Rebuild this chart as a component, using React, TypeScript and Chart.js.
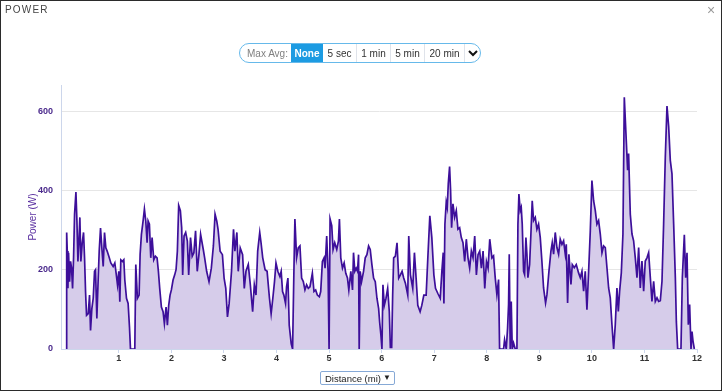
import React, { useEffect, useRef } from "react";
import { Chart, registerables } from "chart.js";

Chart.register(...registerables);

const distance = [
  0.0, 0.008, 0.019, 0.032, 0.044, 0.063, 0.082, 0.101, 0.12, 0.139, 0.158, 0.184, 0.203, 0.222, 0.241, 0.259,
  0.278, 0.304, 0.329, 0.348, 0.367, 0.386, 0.418, 0.443, 0.462, 0.487, 0.513, 0.538, 0.557, 0.582, 0.608, 0.627,
  0.652, 0.677, 0.703, 0.728, 0.753, 0.778, 0.81, 0.848, 0.892, 0.924, 0.949, 0.975, 1.0, 1.019, 1.038, 1.07,
  1.095, 1.114, 1.146, 1.177, 1.203, 1.222, 1.304, 1.323, 1.354, 1.386, 1.405, 1.43, 1.462, 1.487, 1.513, 1.538,
  1.557, 1.582, 1.608, 1.633, 1.665, 1.696, 1.728, 1.753, 1.778, 1.81, 1.842, 1.867, 1.899, 1.924, 1.949, 1.975,
  2.0, 2.032, 2.063, 2.089, 2.114, 2.139, 2.171, 2.196, 2.215, 2.241, 2.272, 2.304, 2.329, 2.364, 2.396, 2.428,
  2.46, 2.492, 2.524, 2.556, 2.607, 2.633, 2.671, 2.716, 2.76, 2.799, 2.831, 2.863, 2.888, 2.927, 2.971, 3.003,
  3.035, 3.067, 3.099, 3.144, 3.182, 3.208, 3.246, 3.272, 3.31, 3.355, 3.387, 3.419, 3.463, 3.502, 3.546, 3.578,
  3.61, 3.642, 3.681, 3.706, 3.738, 3.783, 3.821, 3.866, 3.898, 3.93, 3.962, 3.99, 4.025, 4.064, 4.089, 4.115,
  4.14, 4.172, 4.191, 4.217, 4.242, 4.28, 4.306, 4.331, 4.35, 4.382, 4.414, 4.446, 4.478, 4.51, 4.541, 4.573,
  4.605, 4.637, 4.682, 4.713, 4.745, 4.777, 4.815, 4.841, 4.873, 4.904, 4.924, 4.955, 4.981, 5.0, 5.019, 5.051,
  5.076, 5.108, 5.146, 5.178, 5.197, 5.223, 5.255, 5.287, 5.318, 5.35, 5.376, 5.414, 5.446, 5.465, 5.49, 5.516,
  5.541, 5.561, 5.573, 5.592, 5.618, 5.656, 5.688, 5.72, 5.752, 5.783, 5.815, 5.847, 5.879, 5.911, 5.943, 5.962,
  5.987, 6.006, 6.025, 6.051, 6.083, 6.115, 6.146, 6.166, 6.191, 6.21, 6.229, 6.261, 6.293, 6.325, 6.357, 6.389,
  6.42, 6.452, 6.497, 6.516, 6.548, 6.592, 6.624, 6.656, 6.688, 6.732, 6.764, 6.803, 6.847, 6.879, 6.917, 6.955,
  6.994, 7.025, 7.07, 7.115, 7.146, 7.172, 7.185, 7.204, 7.229, 7.248, 7.268, 7.293, 7.312, 7.331, 7.357, 7.389,
  7.42, 7.452, 7.484, 7.516, 7.548, 7.58, 7.611, 7.643, 7.675, 7.707, 7.739, 7.771, 7.803, 7.834, 7.866, 7.898,
  7.93, 7.962, 7.994, 8.025, 8.057, 8.098, 8.129, 8.161, 8.193, 8.225, 8.244, 8.32, 8.339, 8.371, 8.396, 8.415,
  8.428, 8.447, 8.466, 8.485, 8.51, 8.542, 8.574, 8.593, 8.612, 8.637, 8.656, 8.675, 8.701, 8.72, 8.745, 8.764,
  8.783, 8.815, 8.84, 8.865, 8.891, 8.923, 8.954, 8.986, 9.018, 9.049, 9.081, 9.119, 9.145, 9.183, 9.221, 9.246,
  9.272, 9.303, 9.335, 9.367, 9.398, 9.43, 9.462, 9.494, 9.513, 9.538, 9.563, 9.602, 9.627, 9.665, 9.703, 9.747,
  9.779, 9.811, 9.843, 9.874, 9.906, 9.938, 9.97, 10.001, 10.033, 10.065, 10.096, 10.128, 10.16, 10.192, 10.223, 10.255,
  10.287, 10.319, 10.35, 10.382, 10.414, 10.445, 10.477, 10.503, 10.528, 10.56, 10.591, 10.617, 10.648, 10.68, 10.699, 10.731,
  10.763, 10.794, 10.826, 10.858, 10.89, 10.921, 10.953, 10.985, 11.016, 11.048, 11.08, 11.112, 11.143, 11.175, 11.207, 11.239,
  11.27, 11.302, 11.334, 11.365, 11.397, 11.429, 11.461, 11.492, 11.524, 11.556, 11.588, 11.607, 11.632, 11.695, 11.721, 11.759,
  11.784, 11.81, 11.835, 11.86, 11.886, 11.905, 11.924, 11.949,
];

const power = [
  0, 294, 247, 153, 243, 170, 221, 204, 153, 230, 340, 396, 323, 221, 272, 332,
  221, 268, 294, 230, 145, 85, 89, 136, 47, 102, 128, 196, 200, 77, 179, 247,
  305, 255, 208, 294, 255, 247, 234, 217, 208, 217, 191, 162, 196, 119, 225, 221,
  225, 174, 128, 115, 55, 0, 0, 213, 128, 136, 238, 289, 323, 353, 323, 268,
  323, 315, 230, 281, 225, 234, 230, 196, 153, 106, 94, 64, 106, 60, 110, 136,
  149, 174, 187, 200, 247, 362, 349, 306, 187, 285, 294, 272, 187, 281, 234, 243,
  298, 196, 238, 289, 251, 230, 196, 170, 204, 260, 340, 323, 302, 247, 238, 179,
  153, 81, 115, 196, 302, 247, 294, 196, 255, 238, 153, 196, 213, 162, 94, 162,
  136, 247, 294, 268, 230, 200, 196, 128, 89, 128, 170, 217, 196, 183, 196, 145,
  136, 115, 157, 179, 60, 13, 0, 196, 328, 230, 255, 260, 179, 170, 149, 162,
  153, 157, 191, 145, 149, 136, 132, 145, 221, 230, 204, 285, 196, 0, 328, 311,
  251, 268, 251, 272, 328, 230, 204, 217, 191, 179, 149, 196, 149, 243, 196, 204,
  196, 238, 0, 196, 170, 196, 230, 238, 260, 251, 213, 179, 170, 128, 102, 68,
  34, 0, 162, 110, 128, 153, 94, 4, 4, 136, 230, 234, 268, 179, 187, 196,
  179, 166, 136, 285, 187, 153, 243, 179, 110, 94, 110, 136, 136, 230, 336, 281,
  187, 153, 140, 128, 196, 243, 115, 315, 370, 357, 417, 460, 400, 306, 366, 332,
  349, 302, 306, 281, 268, 221, 277, 230, 204, 247, 230, 285, 187, 238, 247, 204,
  247, 153, 221, 204, 277, 230, 235, 180, 137, 175, 0, 0, 23, 0, 52, 112,
  239, 0, 120, 0, 15, 0, 0, 315, 391, 349, 357, 315, 196, 188, 281, 239,
  180, 213, 290, 374, 324, 332, 302, 315, 281, 222, 154, 116, 137, 196, 247, 268,
  239, 294, 256, 239, 277, 264, 273, 239, 264, 116, 239, 163, 213, 205, 213, 192,
  180, 196, 146, 196, 99, 196, 298, 425, 374, 349, 315, 324, 290, 243, 260, 256,
  205, 154, 129, 61, 0, 61, 154, 95, 146, 192, 290, 635, 544, 451, 493, 340,
  290, 273, 230, 180, 256, 154, 222, 146, 222, 230, 243, 180, 120, 171, 120, 129,
  120, 122, 171, 315, 484, 613, 561, 476, 442, 315, 180, 69, 0, 0, 180, 288,
  180, 243, 61, 112, 0, 44, 20, 0,
];

const xTickValues = [1, 2, 3, 4, 5, 6, 7, 8, 9, 10, 11, 12];
const yTickValues = [0, 200, 400, 600];
const avgOptions = ["5 sec", "1 min", "5 min", "20 min"];
const avgWidths = [33, 34, 34, 40];

const FONT = '"Liberation Sans", Arial, Helvetica, sans-serif';

export default function App() {
  const ref = useRef<HTMLCanvasElement | null>(null);

  useEffect(() => {
    document.body.style.margin = "0";
    const canvas = ref.current;
    if (!canvas) return;
    const points = distance.map((d, i) => ({ x: d, y: power[i] }));
    const chart = new Chart(canvas, {
      type: "line",
      data: {
        datasets: [
          {
            data: points,
            borderColor: "#3d0f9a",
            backgroundColor: "rgba(214,204,234,1)",
            fill: "origin",
            borderWidth: 1.7,
            pointRadius: 0,
            tension: 0,
          },
        ],
      },
      options: {
        animation: false,
        responsive: false,
        maintainAspectRatio: false,
        layout: { padding: { top: 85, right: 25, bottom: 20, left: 0 } },
        plugins: { legend: { display: false }, tooltip: { enabled: false } },
        scales: {
          x: {
            type: "linear",
            min: -0.1,
            max: 12,
            afterBuildTicks: (s: any) => {
              s.ticks = xTickValues.map((v) => ({ value: v }));
            },
            afterFit: (s: any) => {
              s.height = 22;
            },
            grid: { drawOnChartArea: false, drawTicks: true, tickLength: 4, color: "#ccd6eb" },
            border: { color: "#ccd6eb" },
            ticks: {
              color: "#333333",
              font: { size: 9, weight: "bold", family: FONT },
              padding: 0,
              maxRotation: 0,
              autoSkip: false,
            },
          },
          y: {
            min: 0,
            max: 666,
            afterBuildTicks: (s: any) => {
              s.ticks = yTickValues.map((v) => ({ value: v }));
            },
            afterFit: (s: any) => {
              s.width = 61;
            },
            grid: {
              drawTicks: false,
              color: (ctx: any) => (ctx.tick && ctx.tick.value === 0 ? "rgba(0,0,0,0)" : "#e6e6e6"),
            },
            border: { color: "#ccd6eb" },
            ticks: {
              padding: 8,
              color: "#4b2a8c",
              font: { size: 9, weight: "bold", family: FONT },
            },
            title: {
              display: true,
              text: "Power (W)",
              color: "#5a2fa0",
              font: { size: 10, family: FONT },
              padding: { top: 27, bottom: 0 },
            },
          },
        },
      },
    } as any);
    return () => chart.destroy();
  }, []);

  return (
    <div
      style={{
        position: "absolute",
        left: 0,
        top: 0,
        width: 722,
        height: 391,
        boxSizing: "border-box",
        border: "1px solid #2b2b2b",
        background: "#fff",
        overflow: "hidden",
        fontFamily: FONT,
      }}
    >
      <canvas
        ref={ref}
        width={722}
        height={391}
        style={{ position: "absolute", left: -1, top: -1, display: "block", width: 722, height: 391 }}
      />
      <div
        style={{
          position: "absolute",
          left: 4,
          top: 3,
          fontSize: 10,
          letterSpacing: 1.2,
          color: "#444",
        }}
      >
        POWER
      </div>
      <div style={{ position: "absolute", left: 706, top: 1, fontSize: 14, color: "#999" }}>×</div>

      <div
        style={{
          position: "absolute",
          left: 238,
          top: 42,
          width: 242,
          height: 20,
          boxSizing: "border-box",
          border: "1px solid #66b9ea",
          borderRadius: 10,
          display: "flex",
          alignItems: "stretch",
          overflow: "hidden",
          fontSize: 10,
          background: "#fff",
        }}
      >
        <div
          style={{
            width: 51,
            color: "#808080",
            display: "flex",
            alignItems: "center",
            justifyContent: "center",
            paddingLeft: 4,
            boxSizing: "border-box",
          }}
        >
          Max Avg:
        </div>
        <div
          style={{
            width: 32,
            background: "#1c9be2",
            color: "#fff",
            fontWeight: "bold",
            display: "flex",
            alignItems: "center",
            justifyContent: "center",
          }}
        >
          None
        </div>
        {avgOptions.map((o, i) => (
          <div
            key={o}
            style={{
              width: avgWidths[i],
              boxSizing: "border-box",
              borderLeft: i === 0 ? "none" : "1px solid #dfe3ea",
              color: "#333",
              display: "flex",
              alignItems: "center",
              justifyContent: "center",
            }}
          >
            {o}
          </div>
        ))}
        <div
          style={{
            flex: 1,
            boxSizing: "border-box",
            borderLeft: "1px solid #dfe3ea",
            display: "flex",
            alignItems: "center",
            justifyContent: "center",
          }}
        >
          <svg width="10" height="7" viewBox="0 0 10 7">
            <polyline points="1,1 5,5 9,1" fill="none" stroke="#111" strokeWidth="2" />
          </svg>
        </div>
      </div>

      <div
        style={{
          position: "absolute",
          left: 319,
          top: 370,
          width: 75,
          height: 14,
          boxSizing: "border-box",
          border: "1px solid #86a9d6",
          borderRadius: 2,
          fontSize: 9.5,
          color: "#222",
          display: "flex",
          alignItems: "center",
          paddingLeft: 4,
          whiteSpace: "nowrap",
        }}
      >
        <span>Distance (mi)</span>
        <span style={{ position: "absolute", right: 3, top: 1, fontSize: 8 }}>▼</span>
      </div>
    </div>
  );
}
